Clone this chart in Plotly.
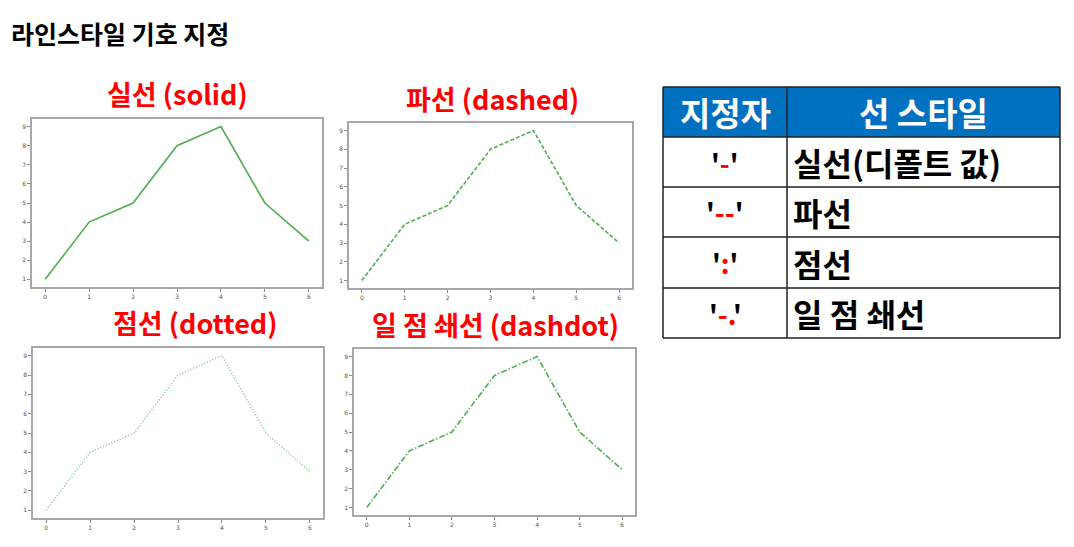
import plotly.graph_objects as go

W, H = 1074, 547

# ---- data ----
x_vals = [0, 1, 2, 3, 4, 5, 6]
y_vals = [1, 4, 5, 8, 9, 5, 3]
panel_titles = ["실선 (solid)", "파선 (dashed)", "점선 (dotted)", "일 점 쇄선 (dashdot)"]
panel_dashes = ["solid", "4px,2px", "1px,2px", "6px,2px,1.5px,2px"]
x_ticks = [0, 1, 2, 3, 4, 5, 6]
y_ticks = [1, 2, 3, 4, 5, 6, 7, 8, 9]
main_title = "라인스타일 기호 지정"
table_header = ["지정자", "선 스타일"]
table_spec = ["-", "--", ":", "-."]
table_desc = ["실선(디폴트 값)", "파선", "점선", "일 점 쇄선"]

# ---- layout geometry (pixels) ----
panels = [  # left, right, top, bottom
    (32, 322, 119, 287),
    (349, 632, 123, 288),
    (33, 323, 348, 518),
    (354, 635, 349, 515),
]
title_pos = [(177, 94), (492, 99), (195, 322), (495, 324)]
line_colors = ["#4fae4f", "#4fae4f", "#86c986", "#4fae4f"]

fig = go.Figure()
layout = dict(width=W, height=H, margin=dict(l=0, r=0, t=0, b=0),
              paper_bgcolor="white", plot_bgcolor="white", showlegend=False)

annotations = []
shapes = []

for i, (l, r, t, b) in enumerate(panels):
    xa = "xaxis" if i == 0 else f"xaxis{i+1}"
    ya = "yaxis" if i == 0 else f"yaxis{i+1}"
    xref = "x" if i == 0 else f"x{i+1}"
    yref = "y" if i == 0 else f"y{i+1}"
    fig.add_trace(go.Scatter(x=x_vals, y=y_vals, mode="lines", xaxis=xref, yaxis=yref,
                             line=dict(color=line_colors[i], width=1.6, dash=panel_dashes[i]),
                             hoverinfo="skip"))
    axis_common = dict(showgrid=False, zeroline=False, showline=True, mirror=True,
                       linecolor="#a8a8a8", linewidth=1.5, ticks="outside", ticklen=3,
                       tickcolor="#888", tickwidth=1,
                       tickfont=dict(family="DejaVu Sans", size=6, color="#555"))
    layout[xa] = dict(domain=[l / W, r / W], anchor=yref, range=[-0.3, 6.3],
                      tickvals=x_ticks, **axis_common)
    layout[ya] = dict(domain=[1 - b / H, 1 - t / H], anchor=xref, range=[0.6, 9.4],
                      tickvals=y_ticks, **axis_common)
    cx, cy = title_pos[i]
    annotations.append(dict(text=f"<b>{panel_titles[i]}</b>", x=cx / W, y=1 - cy / H,
                            xref="paper", yref="paper", xanchor="center", yanchor="middle",
                            showarrow=False,
                            font=dict(family="Noto Sans CJK KR", size=27, color="#ff0000")))

# main title
annotations.append(dict(text=f"<b>{main_title}</b>", x=9 / W, y=1 - 33 / H, xref="paper", yref="paper",
                        xanchor="left", yanchor="middle", showarrow=False,
                        font=dict(family="Noto Sans CJK KR", size=25, color="black")))

# table
tl, tm, tr = 663, 787, 1060
row_edges = [87, 137, 187, 237, 288, 338]
shapes.append(dict(type="rect", xref="paper", yref="paper", x0=tl / W, x1=tr / W,
                   y0=1 - row_edges[1] / H, y1=1 - row_edges[0] / H,
                   fillcolor="#0070c0", line=dict(width=0), layer="below"))
for ye in row_edges:
    shapes.append(dict(type="line", xref="paper", yref="paper", x0=tl / W, x1=tr / W,
                       y0=1 - ye / H, y1=1 - ye / H, line=dict(color="#222", width=1.5)))
for xe in (tl, tm, tr):
    shapes.append(dict(type="line", xref="paper", yref="paper", x0=xe / W, x1=xe / W,
                       y0=1 - row_edges[0] / H, y1=1 - row_edges[-1] / H,
                       line=dict(color="#222", width=1.5)))

hy = (row_edges[0] + row_edges[1]) / 2
annotations.append(dict(text=f"<b>{table_header[0]}</b>", x=(tl + tm) / 2 / W, y=1 - hy / H,
                        xref="paper", yref="paper", showarrow=False, xanchor="center", yanchor="middle",
                        font=dict(family="Noto Sans CJK KR", size=33, color="white")))
annotations.append(dict(text=f"<b>{table_header[1]}</b>", x=(tm + tr) / 2 / W, y=1 - hy / H,
                        xref="paper", yref="paper", showarrow=False, xanchor="center", yanchor="middle",
                        font=dict(family="Noto Sans CJK KR", size=33, color="white")))
for k in range(4):
    cy = (row_edges[k + 1] + row_edges[k + 2]) / 2
    annotations.append(dict(text=f"<b>'<span style='color:#ff0000'>{table_spec[k]}</span>'</b>",
                            x=(tl + tm) / 2 / W, y=1 - cy / H, xref="paper", yref="paper",
                            showarrow=False, xanchor="center", yanchor="middle",
                            font=dict(family="Noto Sans CJK KR", size=27, color="black")))
    annotations.append(dict(text=f"<b>{table_desc[k]}</b>", x=(tm + 4) / W, y=1 - cy / H,
                            xref="paper", yref="paper", showarrow=False, xanchor="left", yanchor="middle",
                            font=dict(family="Noto Sans CJK KR", size=32, color="black")))

layout["annotations"] = annotations
layout["shapes"] = shapes
fig.update_layout(**layout)
fig.write_html("out.html")
